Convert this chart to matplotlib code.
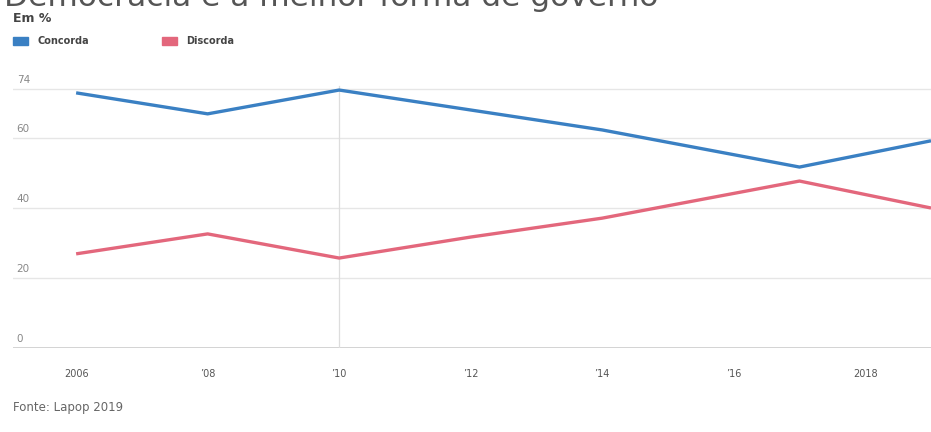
import matplotlib
matplotlib.use("Agg")
import matplotlib.pyplot as plt
import matplotlib.transforms as mtransforms
from matplotlib.patches import Rectangle

years = [2006, 2008, 2010, 2012, 2014, 2017, 2019]
concorda = [72.9, 66.9, 73.7, 68.0, 62.3, 51.7, 59.2]
discorda = [26.9, 32.6, 25.7, 31.7, 37.1, 47.7, 40.0]
xtick_pos = [2006, 2008, 2010, 2012, 2014, 2016, 2018]
xtick_labels = ["2006", "\u201908", "\u201910", "\u201912", "\u201914", "\u201916", "2018"]
ytick_vals = [0, 20, 40, 60, 74]
ytick_labels = ["0", "20", "40", "60", "74"]

BLUE = "#3a80c3"
RED = "#e3677c"

W, H = 931, 432
fig = plt.figure(figsize=(W / 100, H / 100), dpi=100)
left_px, right_px, bottom_px, top_px = 13, 931, 348, 80
ax = fig.add_axes([left_px / W, (H - bottom_px) / H, (right_px - left_px) / W, (bottom_px - top_px) / H])

ymax = (bottom_px - top_px) / 3.5
ax.set_xlim(2005.04, 2019)
ax.set_ylim(0, ymax)

for v in ytick_vals[1:]:
    ax.axhline(v, color="#e6e6e6", lw=1.0, zorder=1)
ax.axhline(0, color="#cccccc", lw=1.2, zorder=1)
ax.axvline(2010, color="#dddddd", lw=0.9, zorder=1, ymax=74 / ymax + 0.01)

ax.plot(years, concorda, color=BLUE, lw=2.4, zorder=3, solid_capstyle="butt")
ax.plot(years, discorda, color=RED, lw=2.4, zorder=3, solid_capstyle="butt")

for s in ax.spines.values():
    s.set_visible(False)
ax.set_yticks([])
ax.set_xticks(xtick_pos)
ax.set_xticklabels(xtick_labels, fontsize=7, color="#555555")
ax.tick_params(axis="x", length=0, pad=15)

trans = mtransforms.blended_transform_factory(ax.transAxes, ax.transData)
offset = mtransforms.ScaledTranslation(0, 3 / 72, fig.dpi_scale_trans)
for v, lab in zip(ytick_vals, ytick_labels):
    ax.text(0.004, v, lab, transform=trans + offset, fontsize=7.5, color="#888888",
            ha="left", va="bottom")

fig.text(0.004, 1 - 6 / H, "Democracia é a melhor forma de governo", fontsize=22.5,
         color="#555555", ha="left", va="baseline")
fig.text(13 / W, 1 - 18 / H, "Em %", fontsize=9, fontweight="bold", color="#444444",
         ha="left", va="center")

for x0, col, lab in [(13, BLUE, "Concorda"), (162, RED, "Discorda")]:
    fig.patches.append(Rectangle((x0 / W, 1 - 45 / H), 15 / W, 8 / H,
                                 transform=fig.transFigure, color=col))
    fig.text((x0 + 24) / W, 1 - 41 / H, lab, fontsize=7, fontweight="bold",
             color="#444444", ha="left", va="center")

fig.text(13 / W, 1 - 408 / H, "Fonte: Lapop 2019", fontsize=8.5, color="#666666",
         ha="left", va="center")

fig.savefig("out.png", dpi=100)
